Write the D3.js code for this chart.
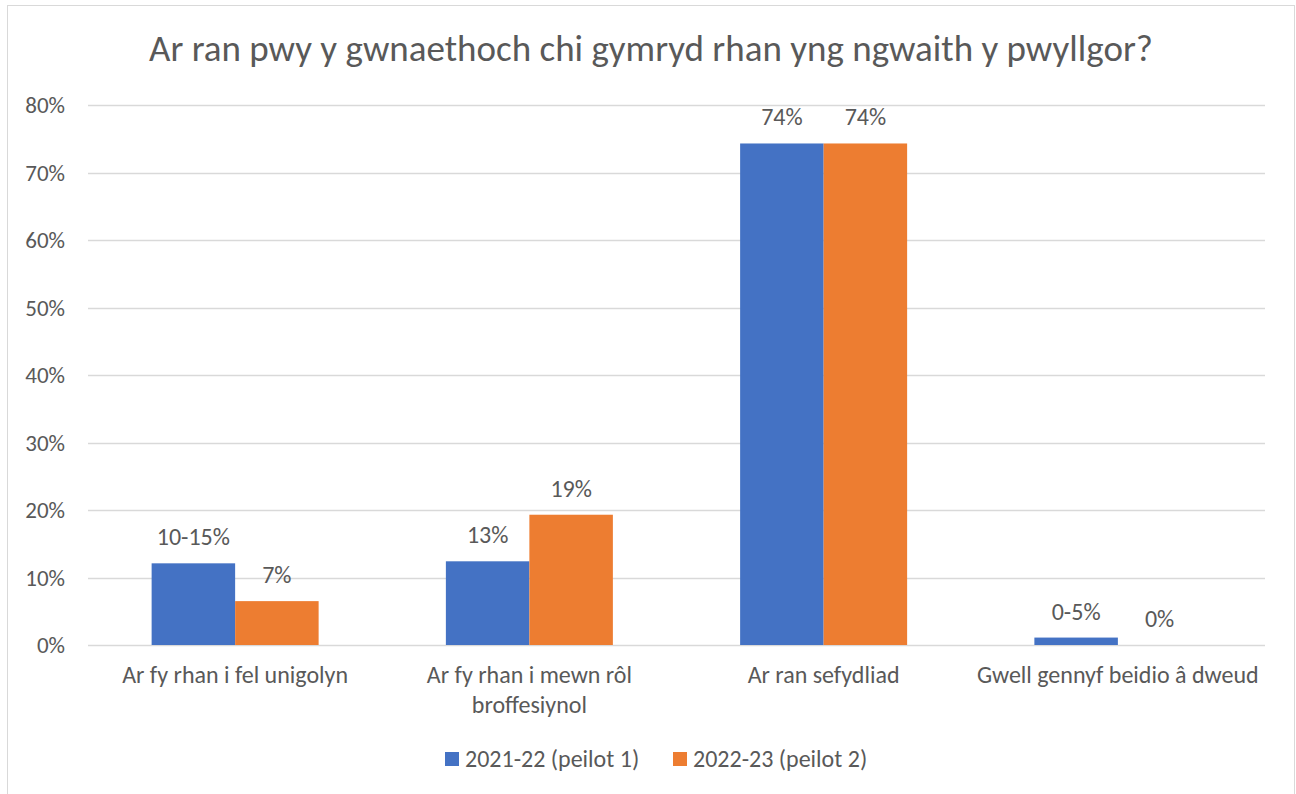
<!DOCTYPE html>
<meta charset="utf-8">
<style>
body { margin: 0; background: #fff; }
text { font-family: Calibri, Carlito, Lato, "Open Sans", sans-serif; fill: #595959; }
</style>
<svg width="1296" height="794"></svg>
<script src="https://d3js.org/d3.v7.min.js"></script>
<script>

var title = "Ar ran pwy y gwnaethoch chi gymryd rhan yng ngwaith y pwyllgor?";
var categories = [
  ["Ar fy rhan i fel unigolyn"],
  ["Ar fy rhan i mewn rôl", "broffesiynol"],
  ["Ar ran sefydliad"],
  ["Gwell gennyf beidio â dweud"]
];
var seriesNames = ["2021-22 (peilot 1)", "2022-23 (peilot 2)"];
var values2122 = [12.1, 12.4, 74.3, 1.1];
var values2223 = [6.5, 19.3, 74.3, 0];
var labels2122 = ["10-15%", "13%", "74%", "0-5%"];
var labels2223 = ["7%", "19%", "74%", "0%"];
var yTicks = [0, 10, 20, 30, 40, 50, 60, 70, 80];
var colors = ["#4472C4", "#ED7D31"];

var svg = d3.select("svg");

// chart border
svg.append("rect")
    .attr("x", 7.5).attr("y", 5.5)
    .attr("width", 1287).attr("height", 800)
    .attr("fill", "none")
    .attr("stroke", "#D9D9D9");

svg.append("text")
    .attr("x", 651).attr("y", 61)
    .attr("text-anchor", "middle")
    .style("font-size", "37px")
    .text(title);

var x0 = d3.scaleBand()
    .domain(d3.range(categories.length))
    .range([88, 1265]);

var bw = 83.5;
var y = d3.scaleLinear().domain([0, 80]).range([645, 105]);

// gridlines + tick labels
var grid = svg.append("g");
grid.selectAll("line")
  .data(yTicks)
  .enter().append("line")
    .attr("x1", 88).attr("x2", 1265)
    .attr("y1", function(d) { return Math.round(y(d)) + 0.5; })
    .attr("y2", function(d) { return Math.round(y(d)) + 0.5; })
    .attr("stroke", "#D9D9D9")
    .attr("stroke-width", 1.3);

grid.selectAll("text")
  .data(yTicks)
  .enter().append("text")
    .attr("x", 65)
    .attr("y", function(d) { return y(d); })
    .attr("dy", "0.35em")
    .attr("text-anchor", "end")
    .style("font-size", "23px")
    .text(function(d) { return d + "%"; });

var series = [
  {values: values2122, labels: labels2122},
  {values: values2223, labels: labels2223}
];

series.forEach(function(s, si) {
  var g = svg.append("g");
  var cx = function(i) { return x0(i) + x0.bandwidth() / 2 + (si - 1) * bw; };
  g.selectAll("rect")
    .data(s.values)
    .enter().append("rect")
      .attr("x", function(d, i) { return cx(i); })
      .attr("y", function(d) { return y(d); })
      .attr("width", bw)
      .attr("height", function(d) { return y(0) - y(d); })
      .attr("fill", colors[si]);
  g.selectAll("text")
    .data(s.values)
    .enter().append("text")
      .attr("x", function(d, i) { return cx(i) + bw / 2; })
      .attr("y", function(d) { return y(d) - 18; })
      .attr("text-anchor", "middle")
      .style("font-size", "24px")
      .text(function(d, i) { return s.labels[i]; });
});

// category labels
var cat = svg.append("g").selectAll("text")
  .data(categories)
  .enter().append("text")
    .attr("x", function(d, i) { return x0(i) + x0.bandwidth() / 2; })
    .attr("y", 683)
    .attr("text-anchor", "middle")
    .style("font-size", "24px");
cat.selectAll("tspan")
  .data(function(d) { return d; })
  .enter().append("tspan")
    .attr("x", function() { return d3.select(this.parentNode).attr("x"); })
    .attr("dy", function(d, i) { return i ? 30 : 0; })
    .text(function(d) { return d; });

// legend
var legendX = [445, 673];
var legend = svg.append("g").selectAll("g")
  .data(seriesNames)
  .enter().append("g")
    .attr("transform", function(d, i) { return "translate(" + legendX[i] + ",752)"; });
legend.append("rect")
    .attr("width", 14).attr("height", 14)
    .attr("fill", function(d, i) { return colors[i]; });
legend.append("text")
    .attr("x", 20).attr("y", 15)
    .style("font-size", "24px")
    .text(function(d) { return d; });

</script>
